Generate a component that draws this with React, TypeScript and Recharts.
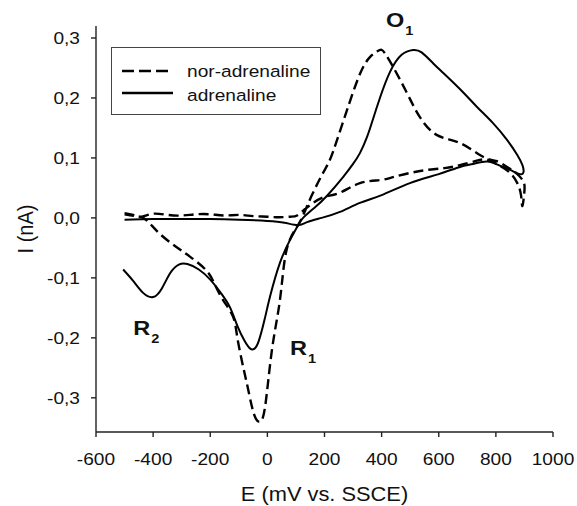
import React from "react";
import {
  LineChart,
  Line,
  XAxis,
  YAxis,
  Legend,
  ReferenceDot,
} from "recharts";

// E (mV vs. SSCE) and I (nA), in scan order
const norAdrenalineE = [
  -500, -470, -440, -400, -350, -300, -250, -200, -150, -100, -50, 0, 40, 80,
  104, 130, 160, 200, 254, 324, 394, 440, 500, 559, 620, 674, 730, 769, 810,
  850, 875, 888, 893, 900, 895, 870, 839, 800, 755, 674, 594, 534, 489, 440,
  415, 401, 385, 359, 324, 279, 244, 219, 195, 156, 121, 97, 65, 44, 16, -8,
  -26, -40, -54, -70, -85, -105, -120, -155, -185, -215, -270, -320, -380,
  -425, -460, -500,
];
const norAdrenalineI = [
  0.008, 0.005, 0.002, 0.007, 0.005, 0.004, 0.006, 0.006, 0.004, 0.005, 0.003,
  0.002, 0.001, 0.002, 0.004, 0.014, 0.025, 0.035, 0.042, 0.058, 0.063, 0.068,
  0.075, 0.08, 0.083, 0.088, 0.095, 0.097, 0.088, 0.075, 0.058, 0.038, 0.02,
  0.045, 0.062, 0.075, 0.085, 0.095, 0.102, 0.125, 0.138, 0.168, 0.208, 0.252,
  0.272, 0.28, 0.278, 0.268, 0.24, 0.18, 0.13, 0.097, 0.075, 0.038, 0.0,
  -0.02, -0.058, -0.137, -0.22, -0.315, -0.34, -0.335, -0.315, -0.28, -0.248,
  -0.2, -0.165, -0.137, -0.11, -0.087, -0.065, -0.048, -0.025, -0.003, 0.003,
  0.006,
];

const adrenalineE = [
  -505, -470, -435, -400, -370, -340, -310, -280, -240, -200, -160, -130, -105,
  -80, -60, -45, -30, -10, 10, 44, 79, 104, 125, 165, 209, 265, 300, 324, 349,
  370, 394, 429, 470, 510, 540, 580, 615, 680, 734, 790, 839, 875, 893, 897,
  885, 850, 810, 769, 720, 674, 600, 499, 400, 324, 254, 190, 139, 107, 60, 0,
  -100, -200, -300, -400, -500,
];
const adrenalineI = [
  -0.086, -0.105, -0.125, -0.132, -0.118, -0.092, -0.078, -0.077, -0.086,
  -0.103, -0.127, -0.15, -0.18, -0.205, -0.218, -0.218, -0.205, -0.17, -0.13,
  -0.075, -0.037, -0.015, 0.0, 0.017, 0.037, 0.068, 0.09, 0.108, 0.135, 0.165,
  0.2, 0.243, 0.272, 0.28, 0.276, 0.258, 0.242, 0.212, 0.185, 0.158, 0.13,
  0.105, 0.088, 0.077, 0.073, 0.08, 0.088, 0.094, 0.09, 0.085, 0.073, 0.058,
  0.038, 0.025, 0.01, 0.0, -0.007, -0.012, -0.008, -0.005, -0.003, -0.002,
  -0.002, -0.002, -0.003,
];

const xTicks = [-600, -400, -200, 0, 200, 400, 600, 800, 1000];
const yTicks = [-0.3, -0.2, -0.1, 0, 0.1, 0.2, 0.3];

const seriesNames = ["nor-adrenaline", "adrenaline"];
const seriesDash = ["10 5", undefined];

const peakLabels = [
  { text: "O", sub: "1", e: 415, i: 0.318 },
  { text: "R", sub: "2", e: -470, i: -0.195 },
  { text: "R", sub: "1", e: 79, i: -0.228 },
];

const norData = norAdrenalineE.map((e, k) => ({ e, i: norAdrenalineI[k] }));
const adrData = adrenalineE.map((e, k) => ({ e, i: adrenalineI[k] }));

const FONT = '"Liberation Sans", Arial, Helvetica, sans-serif';
const STRETCH = 1.16;

const XTick = ({ x, y, payload }: any) => (
  <g transform={`translate(${x},${y}) scale(${STRETCH},1)`}>
    <text x={0} y={28} textAnchor="middle" fontSize={16.5} fontFamily={FONT} fill="#111">
      {payload.value}
    </text>
  </g>
);

const YTick = ({ x, y, payload }: any) => (
  <g transform={`translate(${x - 11},${y}) scale(${STRETCH},1)`}>
    <text x={0} y={6} textAnchor="end" fontSize={16.5} fontFamily={FONT} fill="#111">
      {Number(payload.value).toFixed(1).replace(".", ",")}
    </text>
  </g>
);

const XLabel = ({ viewBox }: any) => (
  <g transform={`translate(${viewBox.x + viewBox.width / 2},501) scale(1.12,1)`}>
    <text textAnchor="middle" fontSize={19.5} fontFamily={FONT} fill="#111">
      E (mV vs. SSCE)
    </text>
  </g>
);

const YLabel = ({ viewBox }: any) => (
  <g transform={`translate(33,${viewBox.y + viewBox.height / 2}) scale(1.12,1) rotate(-90)`}>
    <text textAnchor="middle" fontSize={20} fontFamily={FONT} fill="#111">
      I (nA)
    </text>
  </g>
);

const PeakLabel = ({ cx, cy, text, sub }: any) => (
  <g transform={`translate(${cx},${cy}) scale(1.12,1)`}>
    <text fontSize={21} fontWeight="bold" fontFamily={FONT} fill="#111">
      {text}
      <tspan fontSize={13} dx={1} dy={8}>
        {sub}
      </tspan>
    </text>
  </g>
);

const LegendBox = () => (
  <svg width={210} height={68} style={{ display: "block" }}>
    <rect x={0.5} y={0.5} width={209} height={67} fill="#fff" stroke="#444" strokeWidth={1} />
    {seriesNames.map((name, k) => (
      <g key={name}>
        <line
          x1={11}
          x2={k === 0 ? 57 : 62}
          y1={24 + k * 22}
          y2={24 + k * 22}
          stroke="#000"
          strokeWidth={2.6}
          strokeDasharray={k === 0 ? "12 5" : undefined}
        />
        <g transform={`translate(76,${30 + k * 24}) scale(${STRETCH},1)`}>
          <text fontSize={16.5} fontFamily={FONT} fill="#111">
            {name}
          </text>
        </g>
      </g>
    ))}
  </svg>
);

export default function App() {
  return (
    <div style={{ position: "absolute", left: 0, top: 0, background: "#fff" }}>
      <LineChart width={577} height={506} margin={{ top: 26, right: 24, bottom: 0, left: 0 }}>
        <XAxis
          type="number"
          dataKey="e"
          domain={[-600, 1000]}
          ticks={xTicks}
          allowDataOverflow
          height={74}
          tickSize={5}
          tickMargin={0}
          axisLine={{ stroke: "#222", strokeWidth: 1.4 }}
          tickLine={{ stroke: "#222", strokeWidth: 1.4 }}
          tick={<XTick />}
          label={{ content: <XLabel /> }}
        />
        <YAxis
          type="number"
          dataKey="i"
          domain={[-0.357, 0.32]}
          ticks={yTicks}
          allowDataOverflow
          width={96}
          tickSize={5}
          tickMargin={0}
          axisLine={{ stroke: "#222", strokeWidth: 1.4 }}
          tickLine={{ stroke: "#222", strokeWidth: 1.4 }}
          tick={<YTick />}
          label={{ content: <YLabel /> }}
        />
        <Legend
          layout="vertical"
          align="center"
          verticalAlign="middle"
          wrapperStyle={{ left: 111, top: 47, width: 210, height: 68 }}
          content={<LegendBox />}
        />
        <Line
          data={norData}
          dataKey="i"
          name={seriesNames[0]}
          type="natural"
          stroke="#000"
          strokeWidth={2.4}
          strokeDasharray={seriesDash[0]}
          dot={false}
          isAnimationActive={false}
        />
        <Line
          data={adrData}
          dataKey="i"
          name={seriesNames[1]}
          type="natural"
          stroke="#000"
          strokeWidth={2}
          strokeDasharray={seriesDash[1]}
          dot={false}
          isAnimationActive={false}
        />
        {peakLabels.map((p) => (
          <ReferenceDot
            key={p.text + p.sub}
            x={p.e}
            y={p.i}
            r={0}
            ifOverflow="visible"
            shape={(props: any) => <PeakLabel {...props} text={p.text} sub={p.sub} />}
          />
        ))}
      </LineChart>
    </div>
  );
}
